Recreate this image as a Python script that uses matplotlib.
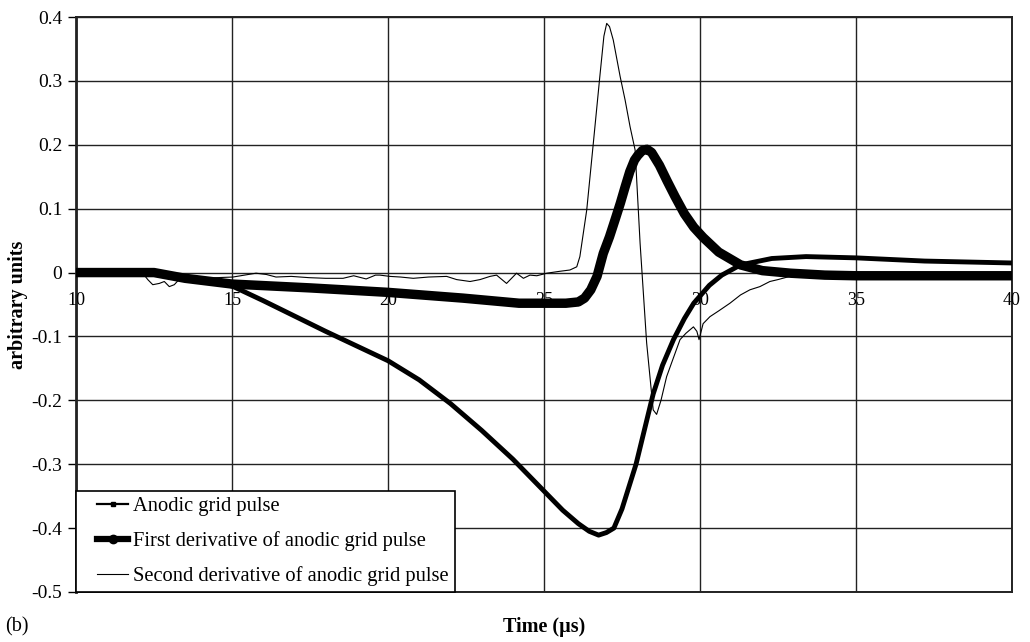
import matplotlib
matplotlib.use("Agg")
import matplotlib.pyplot as plt
from matplotlib.lines import Line2D
from matplotlib.legend_handler import HandlerLine2D

plt.rcParams['font.family'] = ['Liberation Serif', 'DejaVu Serif']

# anodic grid pulse
t_pulse = [10, 12, 12.5, 13, 14, 15, 16, 17, 18, 19, 20, 21, 22, 23, 24, 25,
           25.6, 26.1, 26.45, 26.75, 27.0, 27.24, 27.5, 27.95, 28.1, 28.3,
           28.5, 28.8, 29.15, 29.5, 29.8, 30.3, 30.7, 31.3, 32.3, 33.4, 35.0,
           37.2, 40]
pulse = [0, 0, -0.002, -0.005, -0.011, -0.021, -0.044, -0.068, -0.092, -0.115,
         -0.138, -0.168, -0.205, -0.247, -0.292, -0.342, -0.372, -0.393,
         -0.405, -0.411, -0.407, -0.4, -0.37, -0.30, -0.27, -0.23, -0.19,
         -0.145, -0.105, -0.072, -0.048, -0.02, -0.004, 0.012, 0.022, 0.025,
         0.023, 0.018, 0.015]

# first derivative
t_d1 = [10, 12.5, 13.5, 15, 17.5, 20, 22.4, 24.2, 25.7, 26.1, 26.3, 26.5, 26.7,
        26.9, 27.1, 27.3, 27.45, 27.6, 27.75, 27.9, 28.0, 28.15, 28.3, 28.45,
        28.7, 28.95, 29.2, 29.5, 29.8, 30.1, 30.6, 31.3, 32.0, 32.9, 34, 35,
        37.5, 40]
d1 = [0, 0, -0.009, -0.018, -0.024, -0.031, -0.040, -0.048, -0.048, -0.046,
      -0.040, -0.027, -0.006, 0.030, 0.056, 0.086, 0.109, 0.134, 0.158, 0.176,
      0.183, 0.191, 0.193, 0.188, 0.168, 0.143, 0.119, 0.092, 0.071, 0.055,
      0.032, 0.012, 0.003, -0.001, -0.004, -0.005, -0.005, -0.005]

# second derivative (noisy)
t_d2 = [10, 12.14, 12.3, 12.46, 12.67, 12.83, 12.99, 13.15, 13.3, 13.6, 14.0,
        14.5, 15.03, 15.4, 15.77, 16.1, 16.41, 16.9, 17.47, 18.0, 18.56, 18.9,
        19.3, 19.6, 19.74, 20.06, 20.4, 20.81, 21.3, 21.88, 22.2, 22.63, 22.95,
        23.27, 23.48, 23.8, 24.02, 24.12, 24.34, 24.55, 24.77, 25.09, 25.51,
        25.83, 26.05, 26.15, 26.37, 26.58, 26.79, 26.92, 27.01, 27.1, 27.22,
        27.44, 27.6, 27.76, 27.92, 28.08, 28.29, 28.5, 28.61, 28.75, 28.93,
        29.1, 29.36, 29.55, 29.79, 29.9, 29.97, 30.1, 30.32, 30.6, 30.96, 31.3,
        31.6, 31.92, 32.24, 32.5, 32.88, 33.3, 34.0, 36.0, 38.0, 40.0]
d2 = [0, -0.001, -0.011, -0.019, -0.017, -0.014, -0.022, -0.019, -0.011,
      -0.012, -0.009, -0.008, -0.007, -0.004, -0.001, -0.003, -0.007, -0.006,
      -0.008, -0.009, -0.009, -0.005, -0.01, -0.004, -0.004, -0.006, -0.007,
      -0.009, -0.007, -0.006, -0.011, -0.014, -0.011, -0.006, -0.004, -0.017,
      -0.006, -0.001, -0.009, -0.004, -0.005, -0.001, 0.002, 0.004, 0.009,
      0.025, 0.098, 0.202, 0.307, 0.37, 0.39, 0.385, 0.364, 0.307, 0.27,
      0.228, 0.192, 0.046, -0.11, -0.215, -0.222, -0.2, -0.163, -0.14, -0.105,
      -0.095, -0.085, -0.092, -0.105, -0.08, -0.069, -0.06, -0.048, -0.035,
      -0.027, -0.022, -0.014, -0.011, -0.006, -0.004, -0.005, -0.005, -0.005,
      -0.005]

labels = ["Anodic grid pulse",
          "First derivative of anodic grid pulse",
          "Second derivative of anodic grid pulse"]
x_ticks = [10, 15, 20, 25, 30, 35, 40]
y_ticks = [-0.5, -0.4, -0.3, -0.2, -0.1, 0, 0.1, 0.2, 0.3, 0.4]

fig = plt.figure(figsize=(10.3, 6.42), dpi=100)
ax = fig.add_axes([0.0738, 0.0779, 0.9087, 0.8956])

ax.plot(t_pulse, pulse, color="black", lw=3.5, solid_capstyle="round",
        solid_joinstyle="round", zorder=3)
ax.plot(t_d1, d1, color="black", lw=6.8, solid_capstyle="round",
        solid_joinstyle="round", zorder=4)
ax.plot(t_d2, d2, color="black", lw=0.8, zorder=5)

ax.set_xlim(10, 40)
ax.set_ylim(-0.5, 0.4)
ax.set_xticks(x_ticks)
ax.set_yticks(y_ticks)
ax.set_yticklabels([("%g" % v) for v in y_ticks], fontsize=14)
ax.set_xticklabels([])
ax.tick_params(axis="x", length=0)
ax.tick_params(axis="y", length=6, width=1, pad=4)
ax.grid(True, color="#222222", lw=1.0)
ax.set_axisbelow(True)
for s in ax.spines.values():
    s.set_linewidth(1.4)
    s.set_color("#222222")
ax.spines["left"].set_linewidth(2)

# x tick labels sit on the zero line
for xv in x_ticks:
    ax.annotate(str(xv), (xv, 0), xytext=(0, -14), textcoords="offset points",
                ha="center", va="top", fontsize=13)

handles = [
    Line2D([], [], color="black", lw=1.6, marker="s", markersize=3),
    Line2D([], [], color="black", lw=4.5, marker="o", markersize=6),
    Line2D([], [], color="black", lw=0.8),
]
pad_handler = HandlerLine2D(xpad=0.73)
leg = ax.legend(handles, labels, loc="lower left", bbox_to_anchor=(0, 0),
                borderaxespad=0, fancybox=False, fontsize=14.8,
                handlelength=2.23, handletextpad=0.25, labelspacing=0.72,
                borderpad=0.3, framealpha=1,
                handler_map={h: pad_handler for h in handles})
leg.get_frame().set_edgecolor("black")
leg.get_frame().set_linewidth(1.2)
leg.set_zorder(10)

fig.text(18 / 1030, 1 - 305 / 642, "arbitrary units", rotation=90,
         ha="center", va="center", fontsize=14.5, fontweight="bold")
fig.text(0.528, 1 - 627 / 642, "Time (\u00b5s)", ha="center", va="center",
         fontsize=14.5, fontweight="bold")
fig.text(5 / 1030, 1 - 627 / 642, "(b)", ha="left", va="center", fontsize=14.5)

fig.savefig("out.png", dpi=100)
